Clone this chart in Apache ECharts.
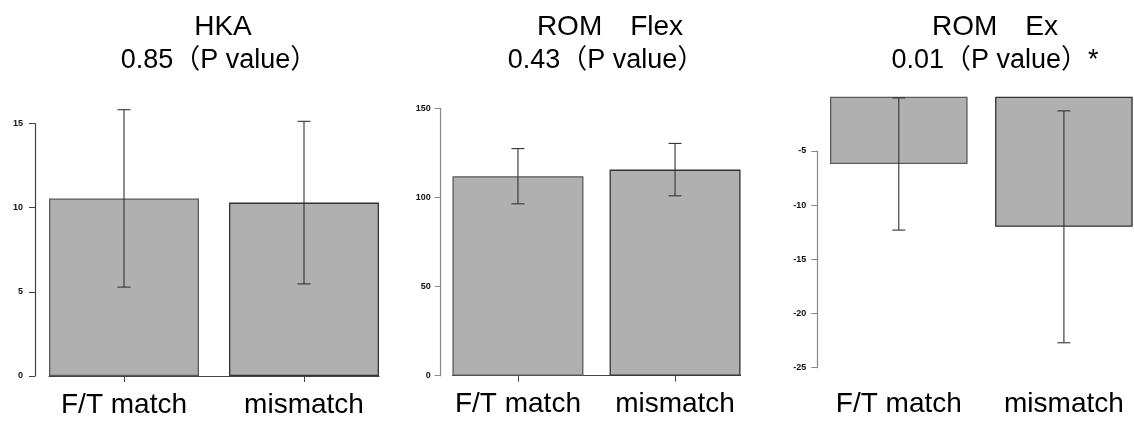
<!DOCTYPE html>
<html>
<head>
<meta charset="utf-8">
<script src="https://cdn.jsdelivr.net/npm/echarts@6/dist/echarts.min.js"></script>
<style>
html,body{margin:0;padding:0;background:#fff;}
#chart{width:1134px;height:422px;}
</style>
</head>
<body>
<div id="chart"></div>
<script>
// ---- data ----
const categories = ['F/T match', 'mismatch'];
const titleLine1 = ['HKA', 'ROM\u3000Flex', 'ROM\u3000Ex'];
const titleLine2 = ['0.85\uFF08P value\uFF09', '0.43\uFF08P value\uFF09', '0.01\uFF08P value\uFF09*'];
const hkaMean = [10.55, 10.3];
const hkaSD = [5.27, 4.83];
const flexMean = [111.9, 115.6];
const flexSD = [15.5, 14.7];
const exMean = [-6.2, -12.0];
const exSD = [6.1, 10.7];
const hkaRange = [0, 15, 5];
const flexRange = [0, 150, 50];
const exRange = [-25, -5, 5];

// ---- styles ----
const FONT = "'Liberation Sans', Arial, 'Noto Sans CJK JP', sans-serif";
const barFill = '#b0b0b0';
const barBorders = ['#5a5a5a', '#333333'];
const errColor = '#333333';

function barData(means) {
  return means.map((m, i) => ({
    value: [i, m],
    itemStyle: { color: barFill, borderColor: barBorders[i], borderWidth: 1.3 }
  }));
}
function errData(means, sds) {
  return means.map((m, i) => [i, m, sds[i]]);
}
function errSeries(idx, means, sds) {
  return {
    type: 'custom', xAxisIndex: idx, yAxisIndex: idx, z: 5, clip: false,
    data: errData(means, sds),
    renderItem: function (params, api) {
      const x = api.value(0), m = api.value(1), s = api.value(2);
      const top = api.coord([x, m + s]);
      const bot = api.coord([x, m - s]);
      const hw = 6.5;
      const st = { stroke: errColor, lineWidth: 1.1 };
      return {
        type: 'group',
        children: [
          { type: 'line', shape: { x1: top[0], y1: top[1], x2: bot[0], y2: bot[1] }, style: st },
          { type: 'line', shape: { x1: top[0] - hw, y1: top[1], x2: top[0] + hw, y2: top[1] }, style: st },
          { type: 'line', shape: { x1: bot[0] - hw, y1: bot[1], x2: bot[0] + hw, y2: bot[1] }, style: st }
        ]
      };
    }
  };
}

const XMIN = -0.41667, XMAX = 1.41667;
function xAxisDef(grid, opts) {
  return Object.assign({
    type: 'value', gridIndex: grid, min: XMIN, max: XMAX,
    splitLine: { show: false },
    axisLine: { show: true, onZero: false, lineStyle: { color: '#444', width: 1.2 } },
    axisTick: { show: true, length: 6, customValues: [0, 1], lineStyle: { color: '#444' } },
    axisLabel: {
      show: true, customValues: [0, 1], margin: 15,
      formatter: v => categories[Math.round(v)] || '',
      fontFamily: FONT, fontSize: 28, color: '#000'
    }
  }, opts || {});
}
function yAxisDef(grid, range, offset, margin, lineColor) {
  return {
    type: 'value', gridIndex: grid, min: range[0], max: range[1], interval: range[2],
    offset: offset, position: 'left',
    splitLine: { show: false },
    axisLine: { show: true, onZero: false, lineStyle: { color: lineColor, width: 1.2 } },
    axisTick: { show: true, length: 6, lineStyle: { color: lineColor } },
    axisLabel: { margin: margin, fontFamily: FONT, fontSize: 9, fontWeight: 'bold', color: '#111' }
  };
}

const titles = [];
const l1x = [218, 605, 990], l2x = [214, 601, 990];
for (let i = 0; i < 3; i++) {
  titles.push({ text: titleLine1[i], left: l1x[i], top: 5, textAlign: 'center',
    textStyle: { fontFamily: FONT, fontSize: 28, fontWeight: 'normal', color: '#000', lineHeight: 34 } });
  titles.push({ text: titleLine2[i], left: l2x[i], top: 39, textAlign: 'center',
    textStyle: { fontFamily: FONT, fontSize: 27, fontWeight: 'normal', color: '#000', lineHeight: 34 } });
}

const option = {
  animation: false,
  backgroundColor: '#fff',
  title: titles,
  grid: [
    { left: 49, top: 123.5, width: 330, height: 252.5 },
    { left: 452.5, top: 108.3, width: 288, height: 267.4 },
    { left: 830, top: 96.8, width: 302.7, height: 270.9 },
    { left: 830, top: 151, width: 302.7, height: 216.7 }
  ],
  xAxis: [
    xAxisDef(0),
    xAxisDef(1),
    xAxisDef(2, { axisLine: { show: false, onZero: false }, axisTick: { show: false },
      axisLabel: { show: true, customValues: [0, 1], margin: 23,
        formatter: v => categories[Math.round(v)] || '',
        fontFamily: FONT, fontSize: 28, color: '#000' } }),
    { type: 'value', gridIndex: 3, show: false, min: XMIN, max: XMAX }
  ],
  yAxis: [
    yAxisDef(0, hkaRange, 14, 12, '#444'),
    yAxisDef(1, flexRange, 11.8, 10, '#888'),
    { type: 'value', gridIndex: 2, min: -25, max: 0, show: false },
    yAxisDef(3, exRange, 12.7, 11, '#888')
  ],
  series: [
    { type: 'bar', xAxisIndex: 0, yAxisIndex: 0, barWidth: 150, data: barData(hkaMean) },
    errSeries(0, hkaMean, hkaSD),
    { type: 'bar', xAxisIndex: 1, yAxisIndex: 1, barWidth: 131, data: barData(flexMean) },
    errSeries(1, flexMean, flexSD),
    { type: 'bar', xAxisIndex: 2, yAxisIndex: 2, barWidth: 137.6, data: barData(exMean) },
    errSeries(2, exMean, exSD)
  ]
};

const chart = echarts.init(document.getElementById('chart'), null, { renderer: 'canvas' });
chart.setOption(option);
</script>
</body>
</html>
